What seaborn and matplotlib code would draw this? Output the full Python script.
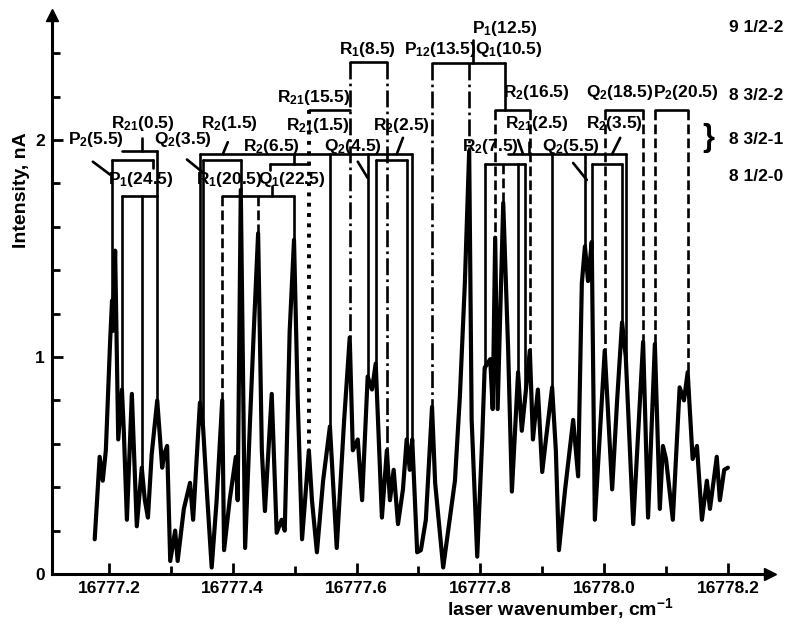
import matplotlib
matplotlib.use("Agg")
import matplotlib.pyplot as plt
import seaborn as sns
import numpy as np

# laser wavenumber (cm-1) and intensity (nA)
wavenumber = [
    16777.177, 16777.185, 16777.190, 16777.195, 16777.202, 16777.205, 16777.206, 16777.210,
    16777.215, 16777.221, 16777.224, 16777.229, 16777.237, 16777.245, 16777.253, 16777.258,
    16777.263, 16777.269, 16777.278, 16777.286, 16777.289, 16777.294, 16777.299, 16777.307,
    16777.311, 16777.321, 16777.331, 16777.336, 16777.347, 16777.352, 16777.358, 16777.366,
    16777.374, 16777.383, 16777.386, 16777.395, 16777.405, 16777.408, 16777.413, 16777.420,
    16777.428, 16777.434, 16777.441, 16777.447, 16777.452, 16777.463, 16777.471, 16777.479,
    16777.484, 16777.492, 16777.499, 16777.505, 16777.512, 16777.523, 16777.528, 16777.536,
    16777.546, 16777.557, 16777.568, 16777.580, 16777.589, 16777.594, 16777.602, 16777.609,
    16777.618, 16777.625, 16777.631, 16777.641, 16777.649, 16777.654, 16777.660, 16777.667,
    16777.675, 16777.681, 16777.686, 16777.690, 16777.698, 16777.704, 16777.712, 16777.722,
    16777.727, 16777.740, 16777.751, 16777.759, 16777.767, 16777.775, 16777.782, 16777.786,
    16777.795, 16777.803, 16777.807, 16777.816, 16777.820, 16777.824, 16777.828, 16777.837,
    16777.845, 16777.851, 16777.861, 16777.867, 16777.872, 16777.880, 16777.885, 16777.893,
    16777.900, 16777.906, 16777.916, 16777.922, 16777.927, 16777.937, 16777.950, 16777.958,
    16777.964, 16777.969, 16777.974, 16777.980, 16777.985, 16778.001, 16778.013, 16778.021,
    16778.029, 16778.035, 16778.047, 16778.063, 16778.071, 16778.082, 16778.090, 16778.095,
    16778.100, 16778.111, 16778.122, 16778.129, 16778.135, 16778.143, 16778.150, 16778.158,
    16778.166, 16778.171, 16778.182, 16778.187, 16778.194, 16778.200,
]
intensity = [
    0.16, 0.54, 0.43, 0.57, 1.08, 1.26, 1.12, 1.49,
    0.62, 0.85, 0.66, 0.25, 0.83, 0.22, 0.49, 0.34,
    0.26, 0.55, 0.80, 0.49, 0.55, 0.59, 0.06, 0.20,
    0.06, 0.30, 0.42, 0.25, 0.79, 0.68, 0.39, 0.03,
    0.34, 0.80, 0.11, 0.34, 0.54, 0.34, 1.77, 0.12,
    0.71, 1.12, 1.57, 0.57, 0.29, 0.83, 0.19, 0.25,
    0.20, 1.12, 1.54, 0.80, 0.16, 0.57, 0.34, 0.10,
    0.43, 0.68, 0.12, 0.71, 1.09, 0.57, 0.62, 0.34,
    0.91, 0.85, 0.97, 0.26, 0.57, 0.34, 0.48, 0.23,
    0.39, 0.62, 0.48, 0.62, 0.10, 0.11, 0.25, 0.77,
    0.42, 0.03, 0.26, 0.43, 0.82, 1.34, 1.95, 0.71,
    0.08, 0.62, 0.95, 0.99, 0.76, 1.55, 0.76, 1.71,
    1.03, 0.38, 0.93, 0.66, 0.80, 1.03, 0.62, 0.85,
    0.47, 0.62, 0.86, 0.57, 0.11, 0.39, 0.71, 0.45,
    1.34, 1.51, 1.35, 1.53, 0.25, 1.03, 0.39, 0.80,
    1.16, 1.00, 0.23, 1.07, 0.26, 1.06, 0.30, 0.59,
    0.53, 0.25, 0.86, 0.80, 0.93, 0.53, 0.59, 0.25,
    0.43, 0.30, 0.54, 0.34, 0.48, 0.49,
]

# line assignments: vertical markers (position, bracket level, style)
line_legs = [
    (16777.205, 1.91, "-"), (16777.221, 1.74, "-"), (16777.253, 1.74, "-"),
    (16777.278, 1.95, "-"), (16777.347, 1.935, "-"), (16777.352, 1.91, "-"),
    (16777.383, 1.74, "--"), (16777.413, 1.91, "-"), (16777.441, 1.74, "--"),
    (16777.499, 1.74, "-"), (16777.523, 2.14, ":"), (16777.557, 1.935, "-"),
    (16777.589, 2.36, "-."), (16777.618, 1.935, "-"), (16777.631, 1.91, "-"),
    (16777.649, 2.36, "-."), (16777.681, 1.91, "-"), (16777.690, 1.935, "-"),
    (16777.722, 2.355, "-."), (16777.782, 2.355, "-."), (16777.807, 1.89, "-"),
    (16777.824, 2.14, "--"), (16777.837, 1.89, "--"), (16777.861, 1.89, "-"),
    (16777.872, 1.89, "-"), (16777.880, 2.14, "--"), (16777.916, 1.935, "-"),
    (16777.969, 1.935, "-"), (16777.980, 1.89, "-"), (16778.001, 2.14, "--"),
    (16778.029, 1.89, "-"), (16778.035, 1.935, "-"), (16778.063, 2.14, "--"),
    (16778.082, 2.14, "--"), (16778.135, 2.14, "--"),
]
# horizontal bracket bars (level, from, to)
brackets = [
    (1.95, 16777.221, 16777.278), (1.91, 16777.205, 16777.271), (1.74, 16777.221, 16777.278),
    (1.935, 16777.347, 16777.690), (1.91, 16777.352, 16777.413), (1.74, 16777.383, 16777.499),
    (1.89, 16777.460, 16777.523), (2.14, 16777.523, 16777.589), (2.36, 16777.589, 16777.649),
    (1.91, 16777.631, 16777.681), (2.355, 16777.722, 16777.840), (2.14, 16777.824, 16777.880),
    (1.935, 16777.845, 16778.035), (1.89, 16777.807, 16777.872), (1.89, 16777.980, 16778.029),
    (2.14, 16778.001, 16778.063), (2.14, 16778.082, 16778.135),
]
# small ticks and pointers from labels (x1, y1, x2, y2)
pointers = [
    (16777.840, 2.355, 16777.840, 2.14), (16777.254, 1.95, 16777.254, 2.01),
    (16777.392, 1.99, 16777.384, 1.935), (16777.499, 1.935, 16777.499, 1.89),
    (16777.463, 1.74, 16777.463, 1.79), (16777.675, 2.01, 16777.665, 1.935),
    (16777.602, 1.90, 16777.618, 1.825), (16777.174, 1.90, 16777.202, 1.84),
    (16777.326, 1.91, 16777.352, 1.85), (16777.788, 2.355, 16777.788, 2.46),
    (16777.861, 2.00, 16777.869, 1.935), (16777.950, 1.894, 16777.972, 1.816),
    (16778.026, 2.01, 16778.013, 1.935), (16777.460, 1.89, 16777.460, 1.86),
    (16777.271, 1.91, 16777.271, 1.87), (16777.878, 1.99, 16777.878, 1.935),
]
line_labels = ["P$_2$(5.5)", "R$_{21}$(0.5)", "P$_1$(24.5)", "Q$_2$(3.5)", "R$_2$(1.5)",
               "R$_1$(20.5)", "Q$_1$(22.5)", "R$_2$(6.5)", "R$_{21}$(15.5)", "R$_{21}$(1.5)",
               "R$_1$(8.5)", "Q$_2$(4.5)", "R$_2$(2.5)", "P$_{12}$(13.5)", "P$_1$(12.5)",
               "Q$_1$(10.5)", "R$_2$(16.5)", "R$_{21}$(2.5)", "R$_2$(7.5)", "Q$_2$(5.5)",
               "R$_2$(3.5)", "Q$_2$(18.5)", "P$_2$(20.5)"]
label_x = [16777.179, 16777.255, 16777.252, 16777.320, 16777.395,
           16777.395, 16777.496, 16777.463, 16777.531, 16777.538,
           16777.617, 16777.594, 16777.673, 16777.735, 16777.840,
           16777.846, 16777.891, 16777.891, 16777.816, 16777.946,
           16778.017, 16778.026, 16778.132]
label_y = [2.00, 2.078, 1.816, 2.00, 2.078,
           1.816, 1.816, 1.968, 2.198, 2.069,
           2.415, 1.968, 2.069, 2.415, 2.516,
           2.415, 2.217, 2.078, 1.968, 1.968,
           2.078, 2.217, 2.217]
band_names = ["9 1/2-2", "8 3/2-2", "8 3/2-1", "8 1/2-0"]
band_y = [2.52, 2.207, 2.00, 1.83]

sns.set_style("ticks")
plt.rcParams["font.family"] = ["Liberation Sans", "DejaVu Sans"]
plt.rcParams["font.weight"] = "bold"
plt.rcParams["mathtext.fontset"] = "custom"
plt.rcParams["mathtext.bf"] = "Liberation Sans:bold"
plt.rcParams["mathtext.rm"] = "Liberation Sans:bold"
plt.rcParams["mathtext.default"] = "bf"
plt.rcParams["text.color"] = "black"
plt.rcParams["xtick.color"] = "black"
plt.rcParams["ytick.color"] = "black"
plt.rcParams["axes.edgecolor"] = "black"

fig = plt.figure(figsize=(7.89, 6.27), dpi=100)
ax = fig.add_axes([52 / 789, 53 / 627, 718 / 789, 559 / 627])

wn = np.array(wavenumber)
inten = np.array(intensity)
sns.lineplot(x=wn, y=inten, color="black", linewidth=3.0, sort=False,
             estimator=None, ax=ax)

# assignment markers
for x, top, style in line_legs:
    bottom = np.interp(x, wn, inten)
    ax.plot([x, x], [top, bottom], color="black", linestyle=style,
            linewidth=1.9 if style != ":" else 2.8)
for level, x1, x2 in brackets:
    ax.plot([x1, x2], [level, level], color="black", linewidth=1.9)
for x1, y1, x2, y2 in pointers:
    ax.plot([x1, x2], [y1, y2], color="black", linewidth=1.9)
for text, x, y in zip(line_labels, label_x, label_y):
    ax.text(x, y, text, ha="center", va="center", fontsize=12.5, fontweight="bold")
for text, y in zip(band_names, band_y):
    ax.text(16778.290, y, text, ha="right", va="center", fontsize=12.5, fontweight="bold")
ax.text(16778.168, 2.01, "}", ha="center", va="center", fontsize=22)

ax.set_xlim(16777.108, 16778.268)
ax.set_ylim(0, 2.576)
ax.set_xticks(np.arange(16777.2, 16778.21, 0.2))
ax.set_xticklabels([f"{v:.1f}" for v in np.arange(16777.2, 16778.21, 0.2)])
ax.set_xticks(np.arange(16777.3, 16778.2, 0.2), minor=True)
ax.set_yticks([0, 1, 2])
ax.set_yticks(np.arange(0.2, 2.5, 0.2), minor=True)
ax.tick_params(axis="both", which="both", direction="in", width=2, labelsize=12.5)
ax.tick_params(axis="both", which="major", length=8, pad=5)
ax.tick_params(axis="both", which="minor", length=6)
for lab in ax.get_xticklabels() + ax.get_yticklabels():
    lab.set_fontweight("bold")

sns.despine(ax=ax)
ax.spines["left"].set_linewidth(2.2)
ax.spines["bottom"].set_linewidth(2.2)
ax.plot(1, 0, ">k", markersize=9, transform=ax.transAxes, clip_on=False)
ax.plot(0, 1, "^k", markersize=9, transform=ax.transAxes, clip_on=False)

ax.set_xlabel("")
ax.set_ylabel("")
fig.text(22 / 789, 1 - 190 / 627, "Intensity, nA", rotation=90, ha="center", va="center",
         fontsize=14, fontweight="bold")
fig.text(560 / 789, 1 - 609 / 627, "laser wavenumber, cm$^{-1}$", ha="center", va="center",
         fontsize=14, fontweight="bold")

fig.savefig("out.png", dpi=100)
